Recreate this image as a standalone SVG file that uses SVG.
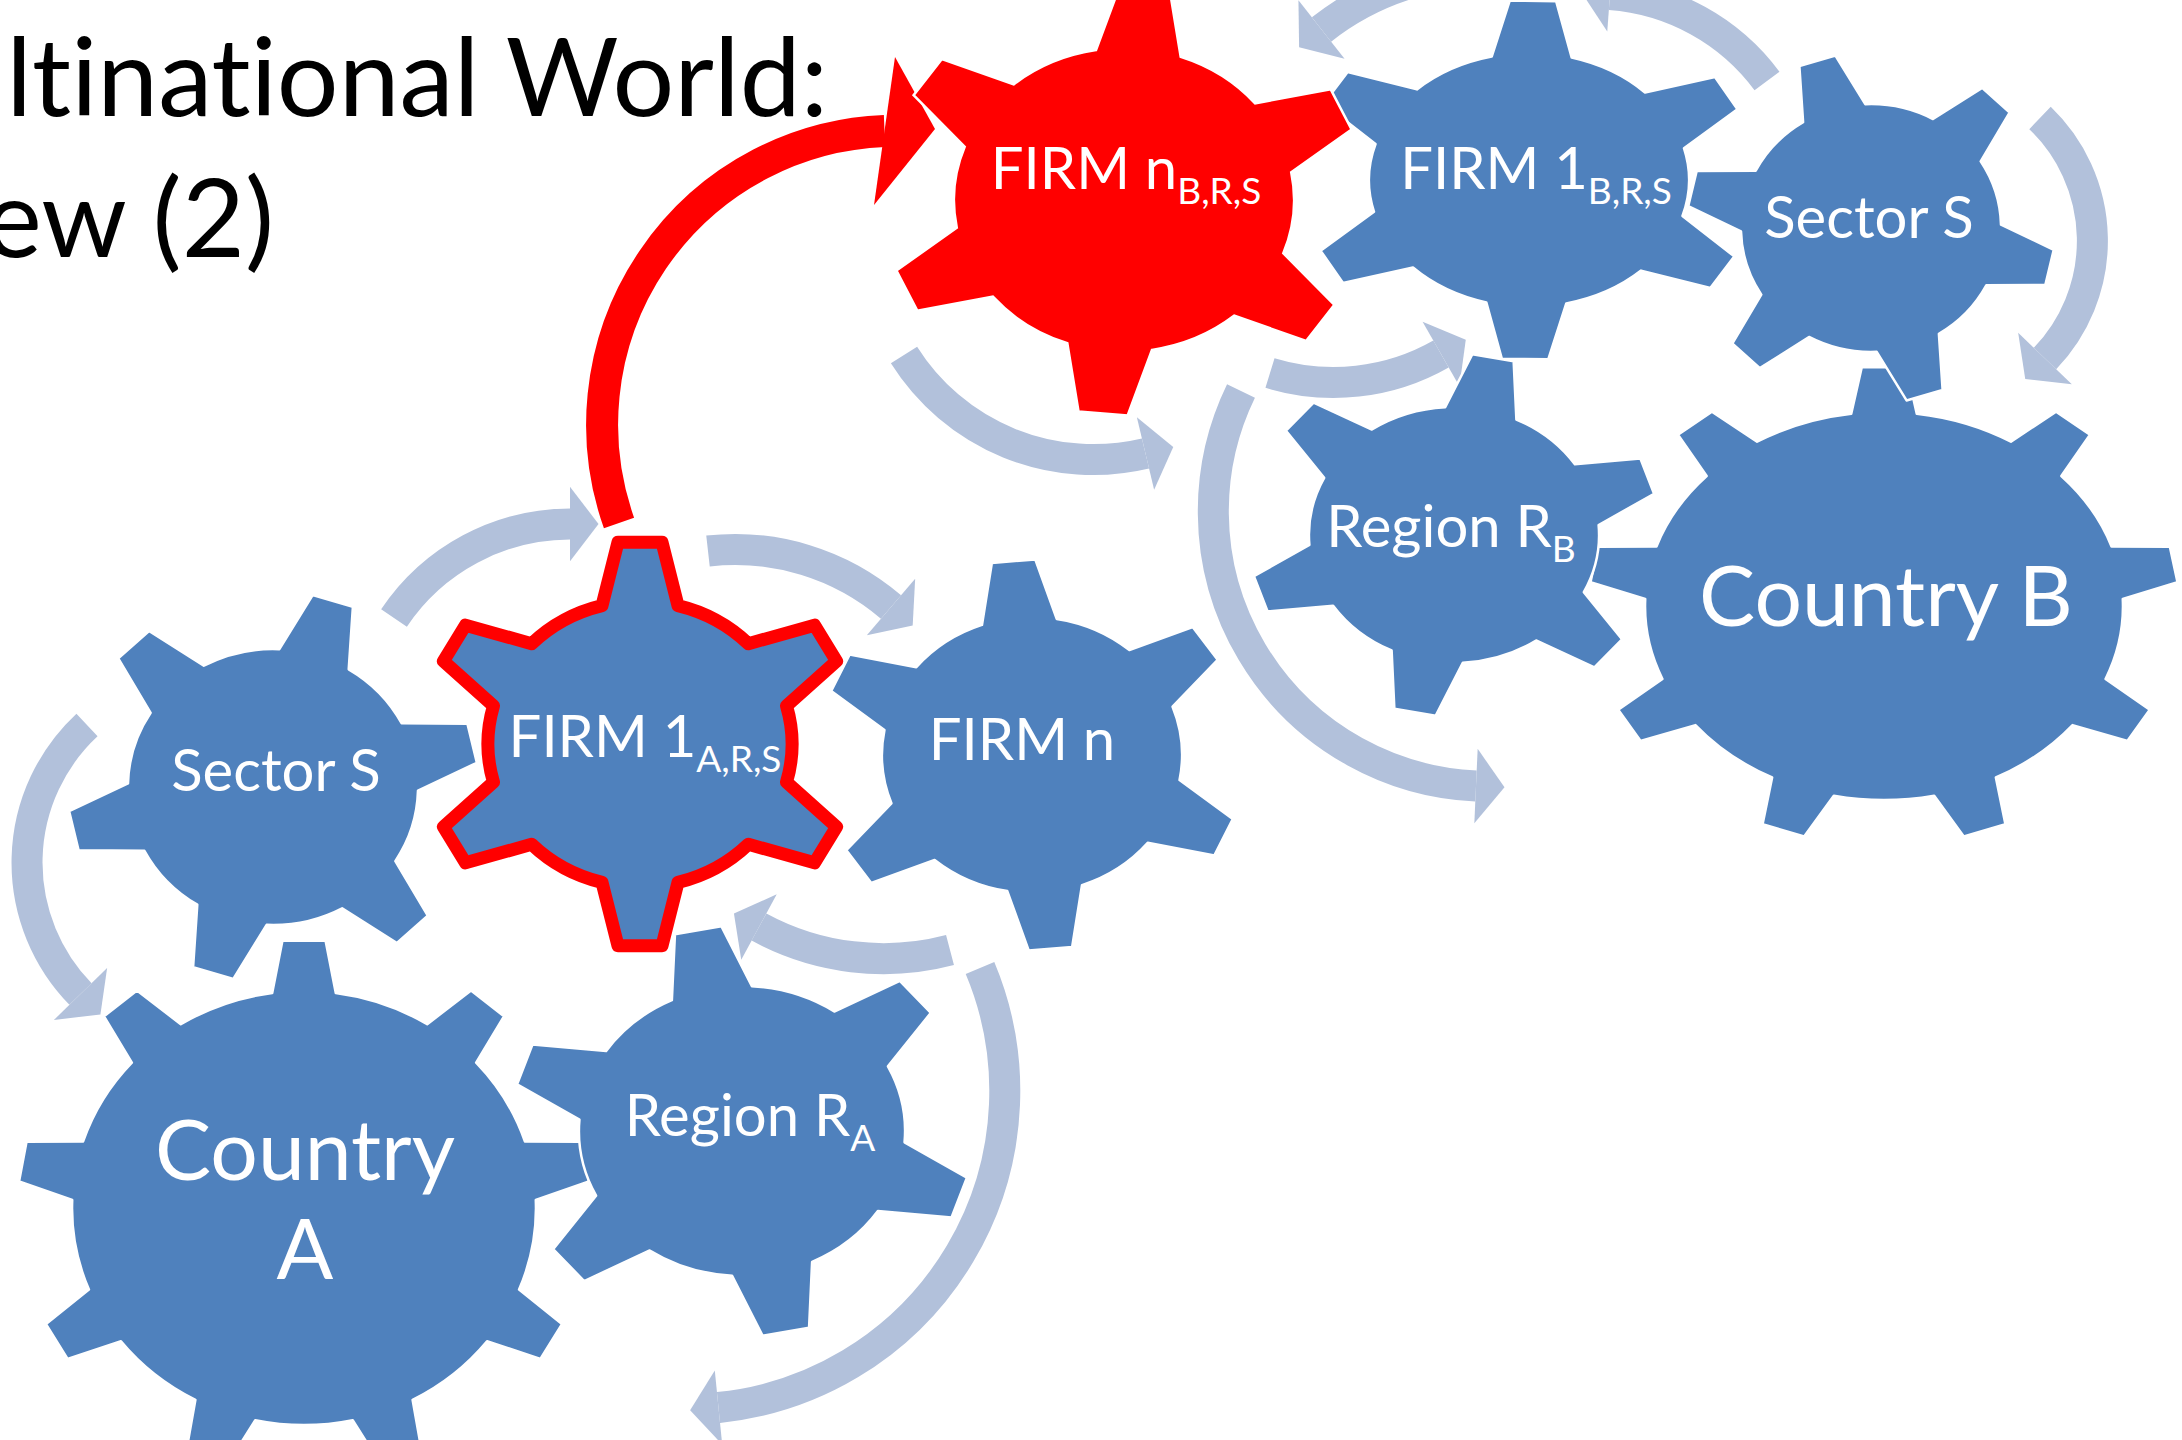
<svg xmlns="http://www.w3.org/2000/svg" xmlns:xlink="http://www.w3.org/1999/xlink" width="2182" height="1440" viewBox="0 0 2182 1440">
<style>
.gear{fill:#4F81BD;stroke:#FFFFFF;stroke-width:2.5;stroke-linejoin:round}
.red{fill:#FF0000;stroke:#FFFFFF;stroke-width:2.5}
.arr{fill:none;stroke:#B2C1DB;stroke-width:31;marker-end:url(#ah)}
text{font-variant-ligatures:none;font-feature-settings:"liga" 0}
.lbl{font-family:Lato,"Liberation Sans",sans-serif;fill:#FFFFFF;font-size:58px;text-anchor:middle}
.sub{font-size:37px}
.big{font-size:84px}
.title{font-family:Lato,"Liberation Sans",sans-serif;fill:#000000;font-size:109px;text-anchor:end}
</style>
<defs>
<marker id="ah" viewBox="0 -1.3 1 2.6" refX="0" refY="0" markerWidth="1" markerHeight="2.6" orient="auto" markerUnits="strokeWidth" overflow="visible">
<path d="M0,-1.2 L0.92,0 L0,1.2 Z" fill="#B2C1DB"/>
</marker>
<path id="g6" vector-effect="non-scaling-stroke" d="M-25,-96.8 L-14.5,-141 L14.5,-141 L25,-96.8 A100,100 0 0 1 71.3,-70.1 L114.8,-83.1 L129.3,-57.9 L96.4,-26.7 A100,100 0 0 1 96.4,26.7 L129.3,57.9 L114.8,83.1 L71.3,70.1 A100,100 0 0 1 25,96.8 L14.5,141 L-14.5,141 L-25,96.8 A100,100 0 0 1 -71.3,70.1 L-114.8,83.1 L-129.3,57.9 L-96.4,26.7 A100,100 0 0 1 -96.4,-26.7 L-129.3,-57.9 L-114.8,-83.1 L-71.3,-70.1 A100,100 0 0 1 -25,-96.8 Z"/>
<path id="g9" vector-effect="non-scaling-stroke" d="M-13.7,-99.1 L-9.3,-123.1 L9.3,-123.1 L13.7,-99.1 A100,100 0 0 1 53.1,-84.7 L72,-100.2 L86.2,-88.3 L74.2,-67 A100,100 0 0 1 95.2,-30.7 L119.6,-30.5 L122.8,-12.3 L99.9,-3.7 A100,100 0 0 1 92.7,37.6 L111.2,53.5 L101.9,69.5 L78.9,61.4 A100,100 0 0 1 46.8,88.4 L50.8,112.5 L33.4,118.8 L21,97.8 A100,100 0 0 1 -21,97.8 L-33.4,118.8 L-50.8,112.5 L-46.8,88.4 A100,100 0 0 1 -78.9,61.4 L-101.9,69.5 L-111.2,53.5 L-92.7,37.6 A100,100 0 0 1 -99.9,-3.7 L-122.8,-12.3 L-119.6,-30.5 L-95.2,-30.7 A100,100 0 0 1 -74.2,-67 L-86.2,-88.3 L-72,-100.2 L-53.1,-84.7 A100,100 0 0 1 -13.7,-99.1 Z"/>
</defs>
<rect width="2182" height="1440" fill="#FFFFFF"/>

<g id="title">
<text class="title" x="828" y="116">ltinational World:</text>
<text class="title" x="274" y="257">ew (2)</text>
</g>

<g id="connectors">
<path class="arr" d="M87,725 A188,188 0 0 0 80.5,994"/>
<path class="arr" d="M394,618 A212,212 0 0 1 570,524"/>
<path class="arr" d="M708,551 A240,240 0 0 1 891,607"/>
<path class="arr" d="M950,950 A261,261 0 0 1 759,927"/>
<path class="arr" d="M980,968 A318,318 0 0 1 718.5,1407.5"/>
<path class="arr" d="M904,355 A224,224 0 0 0 1145.5,453.5"/>
<path class="arr" d="M1270,373 A217,217 0 0 0 1441,354"/>
<path class="arr" d="M1241,391 A275,275 0 0 0 1476,786"/>
<path class="arr" d="M1535,-24 A268,268 0 0 0 1321.5,29.5"/>
<path class="arr" d="M1767,81 A215,215 0 0 0 1610,-5.5"/>
<path class="arr" d="M2040,118 A170,170 0 0 1 2045,358.5"/>
<path d="M619,523 A294,294 0 0 1 884.5,131" fill="none" stroke="#FF0000" stroke-width="32"/>
<polygon points="895,57 935,129 874,205" fill="#FF0000"/>
</g>

<g id="country-a">
<use xlink:href="#g9" class="gear" transform="translate(304,1208) scale(2.32,2.17)"/>
<text class="lbl big" x="305" y="1180">Country</text>
<text class="lbl big" x="305" y="1279">A</text>
</g>
<g id="country-b">
<use xlink:href="#g9" class="gear" transform="translate(1884,606) scale(2.39,1.94)"/>
<text class="lbl big" x="1886" y="626">Country B</text>
</g>
<g id="sector-s-b">
<use xlink:href="#g6" class="gear" transform="translate(1871,228) scale(1.30,1.24) rotate(-17)"/>
<text class="lbl" x="1869" y="238">Sector S</text>
</g>
<g id="firm-1-b">
<use xlink:href="#g6" class="gear" transform="translate(1529,180) scale(1.60,1.27) rotate(1)"/>
<text class="lbl" x="1536" y="189">FIRM 1<tspan class="sub" dy="15">B,R,S</tspan></text>
</g>
<g id="region-rb">
<use xlink:href="#g6" class="gear" transform="translate(1454,535) scale(1.45,1.28) rotate(11)"/>
<text class="lbl" x="1451" y="547">Region R<tspan class="sub" dy="15">B</tspan></text>
</g>
<g id="firm-n-b">
<use xlink:href="#g6" class="red" transform="translate(1124,200) scale(1.70,1.52) rotate(5)"/>
<text class="lbl" x="1126" y="189">FIRM n<tspan class="sub" dy="15">B,R,S</tspan></text>
</g>
<g id="sector-s-a">
<use xlink:href="#g6" class="gear" transform="translate(273,787) scale(1.45,1.38) rotate(17)"/>
<text class="lbl" x="276" y="791">Sector S</text>
</g>
<g id="firm-n-a">
<use xlink:href="#g6" class="gear" transform="translate(1032,755) scale(1.50,1.38) rotate(-5)"/>
<text class="lbl" x="1022" y="760">FIRM n</text>
</g>
<g id="firm-1-a">
<use xlink:href="#g6" transform="translate(640,744) scale(1.52,1.43)" fill="#4F81BD" stroke="#FF0000" stroke-width="13" stroke-linejoin="round"/>
<text class="lbl" x="645" y="757">FIRM 1<tspan class="sub" dy="15">A,R,S</tspan></text>
</g>
<g id="region-ra">
<use xlink:href="#g6" class="gear" transform="translate(742,1131) scale(1.63,1.45) rotate(-11)"/>
<text class="lbl" x="750" y="1136">Region R<tspan class="sub" dy="15">A</tspan></text>
</g>
</svg>
